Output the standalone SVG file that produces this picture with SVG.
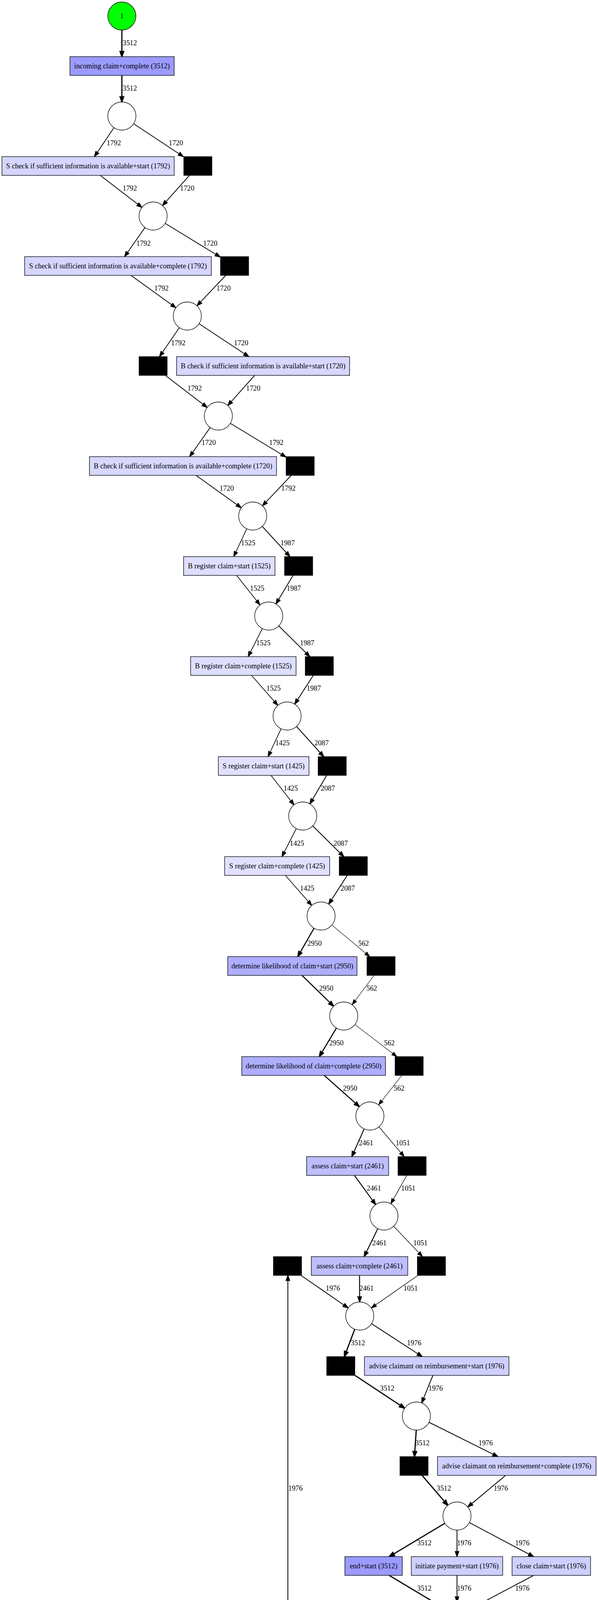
<svg xmlns="http://www.w3.org/2000/svg" width="1531" height="4691" viewBox="0 0 1531 4691">
<style>
text{font-family:"Liberation Serif","Times New Roman",serif;font-size:18.3px;fill:#000}
.n text{text-anchor:middle}
.pl{fill:#fff;stroke:#000;stroke-width:1.33}
.tr{stroke:#000;stroke-width:1.33}
.hid{fill:#000;stroke:#000;stroke-width:1.33}
.c3512{fill:#9B9BFF}.c2950{fill:#AEAEFF}.c2461{fill:#BEBEFF}.c1976{fill:#CFCFFF}
.c1792{fill:#D5D5FF}.c1720{fill:#D7D7FF}.c1525{fill:#DEDEFF}.c1425{fill:#E1E1FF}
.e{fill:none;stroke:#000}
marker path{fill:#000;stroke:#000}
.w30{stroke-width:3;marker-end:url(#m30)}
.w26{stroke-width:2.64;marker-end:url(#m26)}
.w23{stroke-width:2.33;marker-end:url(#m23)}
.w21{stroke-width:2.1;marker-end:url(#m21)}
.w20{stroke-width:2.03;marker-end:url(#m20)}
.w19{stroke-width:1.9;marker-end:url(#m19)}
.w17{stroke-width:1.72;marker-end:url(#m17)}
.w14{stroke-width:1.45;marker-end:url(#m14)}
.w11{stroke-width:1.15;marker-end:url(#m11)}
</style>
<defs>
<marker id="m30" markerUnits="userSpaceOnUse" markerWidth="16" markerHeight="12" refX="13.3" refY="0" orient="auto" overflow="visible"><path d="M0,-4.67L13.3,0L0,4.67Z" stroke-width="3"/></marker>
<marker id="m26" markerUnits="userSpaceOnUse" markerWidth="16" markerHeight="12" refX="13.3" refY="0" orient="auto" overflow="visible"><path d="M0,-4.67L13.3,0L0,4.67Z" stroke-width="2.64"/></marker>
<marker id="m23" markerUnits="userSpaceOnUse" markerWidth="16" markerHeight="12" refX="13.3" refY="0" orient="auto" overflow="visible"><path d="M0,-4.67L13.3,0L0,4.67Z" stroke-width="2.33"/></marker>
<marker id="m21" markerUnits="userSpaceOnUse" markerWidth="16" markerHeight="12" refX="13.3" refY="0" orient="auto" overflow="visible"><path d="M0,-4.67L13.3,0L0,4.67Z" stroke-width="2.1"/></marker>
<marker id="m20" markerUnits="userSpaceOnUse" markerWidth="16" markerHeight="12" refX="13.3" refY="0" orient="auto" overflow="visible"><path d="M0,-4.67L13.3,0L0,4.67Z" stroke-width="2.03"/></marker>
<marker id="m19" markerUnits="userSpaceOnUse" markerWidth="16" markerHeight="12" refX="13.3" refY="0" orient="auto" overflow="visible"><path d="M0,-4.67L13.3,0L0,4.67Z" stroke-width="1.9"/></marker>
<marker id="m17" markerUnits="userSpaceOnUse" markerWidth="16" markerHeight="12" refX="13.3" refY="0" orient="auto" overflow="visible"><path d="M0,-4.67L13.3,0L0,4.67Z" stroke-width="1.72"/></marker>
<marker id="m14" markerUnits="userSpaceOnUse" markerWidth="16" markerHeight="12" refX="13.3" refY="0" orient="auto" overflow="visible"><path d="M0,-4.67L13.3,0L0,4.67Z" stroke-width="1.45"/></marker>
<marker id="m11" markerUnits="userSpaceOnUse" markerWidth="16" markerHeight="12" refX="13.3" refY="0" orient="auto" overflow="visible"><path d="M0,-4.67L13.3,0L0,4.67Z" stroke-width="1.15"/></marker>
</defs>
<rect x="0" y="0" width="1531" height="4691" fill="#fff"/>

<g id="connectors">
<path class="e w30" d="M312,77 L312,145"/>
<path class="e w30" d="M312,193 L312,261"/>
<path class="e w19" d="M291.8,326.8 L241.7,401"/>
<path class="e w19" d="M342.1,316.8 L469.5,401"/>
<path class="e w19" d="M256.7,449 L363.5,531.1"/>
<path class="e w19" d="M485,449 L416,526.2"/>
<path class="e w19" d="M371.3,582.4 L318.9,657"/>
<path class="e w19" d="M422.7,571.8 L564,658"/>
<path class="e w19" d="M335.3,705 L450.3,787.9"/>
<path class="e w19" d="M577.8,705 L504.2,782.8"/>
<path class="e w19" d="M459.2,838.7 L408.4,913"/>
<path class="e w19" d="M509.6,828.8 L637.1,913"/>
<path class="e w19" d="M423.3,961 L530.4,1043.1"/>
<path class="e w19" d="M652,961 L583,1038.2"/>
<path class="e w19" d="M538.2,1094.4 L485.5,1169"/>
<path class="e w19" d="M589.7,1083.8 L732,1170"/>
<path class="e w19" d="M502,1217 L617.8,1300"/>
<path class="e w19" d="M745.7,1217 L671.8,1294.9"/>
<path class="e w17" d="M631.7,1353.6 L598.3,1425"/>
<path class="e w20" d="M671.3,1347.5 L742.5,1425"/>
<path class="e w17" d="M605.9,1473 L665.7,1548.7"/>
<path class="e w20" d="M750.2,1473 L706.5,1546.1"/>
<path class="e w17" d="M671.7,1609.1 L635.2,1681"/>
<path class="e w20" d="M713.6,1602.3 L793.2,1681"/>
<path class="e w17" d="M644,1729 L711.3,1805.9"/>
<path class="e w20" d="M802,1729 L754.5,1802.7"/>
<path class="e w17" d="M719.7,1865.6 L686.3,1937"/>
<path class="e w21" d="M759.1,1859.7 L828.8,1937"/>
<path class="e w17" d="M693.8,1985 L752.8,2060.6"/>
<path class="e w21" d="M836.3,1985 L793.3,2058"/>
<path class="e w17" d="M758.6,2121 L721.8,2193"/>
<path class="e w21" d="M800.6,2114.3 L880.2,2193"/>
<path class="e w17" d="M730.6,2241 L798.2,2318"/>
<path class="e w21" d="M889,2241 L841.5,2314.7"/>
<path class="e w26" d="M804.1,2376.2 L762.3,2449"/>
<path class="e w11" d="M849.6,2368.1 L946.7,2449"/>
<path class="e w26" d="M773.2,2497 L854.2,2575.9"/>
<path class="e w11" d="M957.6,2497 L901.5,2572.1"/>
<path class="e w26" d="M861.4,2631.8 L817.4,2705"/>
<path class="e w11" d="M908.6,2622.9 L1016.1,2705"/>
<path class="e w26" d="M830,2753 L920.1,2833.1"/>
<path class="e w11" d="M1028.7,2753 L969.2,2828.7"/>
<path class="e w23" d="M932.4,2889.9 L900.7,2961"/>
<path class="e w14" d="M970.2,2884.5 L1034.8,2961"/>
<path class="e w23" d="M907.4,3009 L961.8,3083.9"/>
<path class="e w14" d="M1041.5,3009 L1000.6,3081.6"/>
<path class="e w23" d="M967.2,3145.4 L932.2,3217"/>
<path class="e w14" d="M1007.8,3139.1 L1081.7,3217"/>
<path class="e w20" d="M770.7,3265 L891.4,3348.5"/>
<path class="e w23" d="M920.5,3265 L920.8,3333"/>
<path class="e w14" d="M1070.1,3265 L950.5,3348.4"/>
<path class="e w30" d="M908.2,3402.7 L881.6,3473"/>
<path class="e w20" d="M951.2,3388.6 L1081.1,3473"/>
<path class="e w30" d="M908.8,3521 L1036,3605.1"/>
<path class="e w20" d="M1108.3,3521 L1079.5,3591.7"/>
<path class="e w30" d="M1065.7,3661 L1061.1,3729"/>
<path class="e w20" d="M1098.2,3641 L1274.8,3729"/>
<path class="e w30" d="M1080.6,3777 L1146.5,3853.7"/>
<path class="e w20" d="M1294.3,3777 L1197.6,3857.9"/>
<path class="e w30" d="M1139.1,3899.5 L996.5,3985"/>
<path class="e w20" d="M1170,3917 L1170,3985"/>
<path class="e w20" d="M1201.8,3897.9 L1366.2,3985"/>
<path class="e w30" d="M996.5,4033 L1139.1,4118.5"/>
<path class="e w20" d="M1170,4033 L1170,4101"/>
<path class="e w20" d="M1366.2,4033 L1201.8,4120.1"/>
<path class="e w20" d="M1137.3,4152.1 L944.5,4241"/>
<path class="e w20" d="M1170,4173 L1170,4241"/>
<path class="e w30" d="M1202,4153.4 L1372.7,4241"/>
<path class="e w20" d="M918.3,4289 L1003.7,4368.5"/>
<path class="e w20" d="M1143.8,4289 L1056.6,4368.7"/>
<path class="e w30" d="M1346.5,4289 L1064.2,4381.8"/>
<path class="e w20" d="M994,4393 C880,4391 737,4370 737,4270 L737,3265"/>
<path class="e w30" d="M1030,4429 L1030,4497"/>
<path class="e w30" d="M1030,4545 L1030,4613"/>

<g id="edge-labels">
<text x="314" y="116">3512</text>
<text x="314" y="232">3512</text>
<text x="273" y="372">1792</text>
<text x="432" y="372">1720</text>
<text x="314" y="488">1792</text>
<text x="461" y="488">1720</text>
<text x="349" y="629">1792</text>
<text x="520" y="629">1720</text>
<text x="395" y="744">1792</text>
<text x="554" y="744">1720</text>
<text x="438" y="884">1792</text>
<text x="599" y="884">1720</text>
<text x="480" y="1000">1792</text>
<text x="630" y="1000">1720</text>
<text x="516" y="1139">1720</text>
<text x="689" y="1139">1792</text>
<text x="562" y="1256">1720</text>
<text x="720" y="1256">1792</text>
<text x="617" y="1396">1525</text>
<text x="718" y="1396">1987</text>
<text x="640" y="1512">1525</text>
<text x="734" y="1512">1987</text>
<text x="656" y="1652">1525</text>
<text x="768" y="1652">1987</text>
<text x="682" y="1768">1525</text>
<text x="785" y="1768">1987</text>
<text x="705" y="1908">1425</text>
<text x="805" y="1908">2087</text>
<text x="726" y="2024">1425</text>
<text x="821" y="2024">2087</text>
<text x="742" y="2165">1425</text>
<text x="854" y="2165">2087</text>
<text x="768" y="2280">1425</text>
<text x="872" y="2280">2087</text>
<text x="787" y="2421">2950</text>
<text x="917" y="2421">562</text>
<text x="817" y="2536">2950</text>
<text x="938" y="2536">562</text>
<text x="843" y="2676">2950</text>
<text x="983" y="2676">562</text>
<text x="878" y="2792">2950</text>
<text x="1008" y="2792">562</text>
<text x="919" y="2932">2461</text>
<text x="1013" y="2932">1051</text>
<text x="939" y="3048">2461</text>
<text x="1027" y="3048">1051</text>
<text x="953" y="3188">2461</text>
<text x="1058" y="3188">1051</text>
<text x="834" y="3304">1976</text>
<text x="920" y="3304">2461</text>
<text x="1033" y="3304">1051</text>
<text x="898" y="3444">3512</text>
<text x="1042" y="3444">1976</text>
<text x="973" y="3560">3512</text>
<text x="1097" y="3560">1976</text>
<text x="1063" y="3700">3512</text>
<text x="1225" y="3700">1976</text>
<text x="1118" y="3816">3512</text>
<text x="1264" y="3816">1976</text>
<text x="738" y="3816">1976</text>
<text x="1068" y="3956">3512</text>
<text x="1170" y="3956">1976</text>
<text x="1319" y="3956">1976</text>
<text x="1068" y="4072">3512</text>
<text x="1170" y="4072">1976</text>
<text x="1319" y="4072">1976</text>
<text x="1039" y="4212">1976</text>
<text x="1170" y="4212">1976</text>
<text x="1323" y="4212">3512</text>
<text x="965" y="4328">1976</text>
<text x="1114" y="4328">1976</text>
<text x="1270" y="4328">3512</text>
<text x="1030" y="4468">3512</text>
<text x="1030" y="4584">3512</text>
</g>
</g>

<g id="p_start" class="n"><circle cx="312" cy="41" r="36" fill="#00FF00" stroke="#000" stroke-width="1.33"/><text x="312" y="47">1</text></g>
<g id="t_incoming_complete" class="n"><rect class="tr c3512" x="179" y="145" width="267" height="48"/><text x="312.5" y="175">incoming claim+complete (3512)</text></g>
<g id="p1"><circle class="pl" cx="312" cy="297" r="36"/></g>
<g id="t_s_check_start" class="n"><rect class="tr c1792" x="5" y="401" width="441" height="48"/><text x="225.5" y="431">S check if sufficient information is available+start (1792)</text></g>
<g id="h1"><rect class="hid" x="470.5" y="401" width="72" height="48"/></g>
<g id="p2"><circle class="pl" cx="392" cy="553" r="36"/></g>
<g id="t_s_check_complete" class="n"><rect class="tr c1792" x="63" y="657" width="478" height="48"/><text x="302" y="687">S check if sufficient information is available+complete (1792)</text></g>
<g id="h2"><rect class="hid" x="564.5" y="657" width="72" height="48"/></g>
<g id="p3"><circle class="pl" cx="479.5" cy="809" r="36"/></g>
<g id="h3"><rect class="hid" x="356" y="913" width="72" height="48"/></g>
<g id="t_b_check_start" class="n"><rect class="tr c1720" x="452" y="913" width="443" height="48"/><text x="673.5" y="943">B check if sufficient information is available+start (1720)</text></g>
<g id="p4"><circle class="pl" cx="559" cy="1065" r="36"/></g>
<g id="t_b_check_complete" class="n"><rect class="tr c1720" x="229" y="1169" width="479" height="48"/><text x="468.5" y="1199">B check if sufficient information is available+complete (1720)</text></g>
<g id="h4"><rect class="hid" x="732.5" y="1169" width="72" height="48"/></g>
<g id="p5"><circle class="pl" cx="647" cy="1321" r="36"/></g>
<g id="t_b_register_start" class="n"><rect class="tr c1525" x="470" y="1425" width="234" height="48"/><text x="587" y="1455">B register claim+start (1525)</text></g>
<g id="h5"><rect class="hid" x="728.5" y="1425" width="72" height="48"/></g>
<g id="p6"><circle class="pl" cx="688" cy="1577" r="36"/></g>
<g id="t_b_register_complete" class="n"><rect class="tr c1525" x="488" y="1681" width="270" height="48"/><text x="623" y="1711">B register claim+complete (1525)</text></g>
<g id="h6"><rect class="hid" x="781.5" y="1681" width="72" height="48"/></g>
<g id="p7"><circle class="pl" cx="735" cy="1833" r="36"/></g>
<g id="t_s_register_start" class="n"><rect class="tr c1425" x="559" y="1937" width="232" height="48"/><text x="675" y="1967">S register claim+start (1425)</text></g>
<g id="h7"><rect class="hid" x="814.5" y="1937" width="72" height="48"/></g>
<g id="p8"><circle class="pl" cx="775" cy="2089" r="36"/></g>
<g id="t_s_register_complete" class="n"><rect class="tr c1425" x="575" y="2193" width="269" height="48"/><text x="709.5" y="2223">S register claim+complete (1425)</text></g>
<g id="h8"><rect class="hid" x="868.5" y="2193" width="72" height="48"/></g>
<g id="p9"><circle class="pl" cx="822" cy="2345" r="36"/></g>
<g id="t_determine_start" class="n"><rect class="tr c2950" x="583" y="2449" width="331" height="48"/><text x="748.5" y="2479">determine likelihood of claim+start (2950)</text></g>
<g id="h9"><rect class="hid" x="939.5" y="2449" width="72" height="48"/></g>
<g id="p10"><circle class="pl" cx="880" cy="2601" r="36"/></g>
<g id="t_determine_complete" class="n"><rect class="tr c2950" x="619" y="2705" width="368" height="48"/><text x="803" y="2735">determine likelihood of claim+complete (2950)</text></g>
<g id="h10"><rect class="hid" x="1011.5" y="2705" width="72" height="48"/></g>
<g id="p11"><circle class="pl" cx="947" cy="2857" r="36"/></g>
<g id="t_assess_start" class="n"><rect class="tr c2461" x="785" y="2961" width="210" height="48"/><text x="890" y="2991">assess claim+start (2461)</text></g>
<g id="h11"><rect class="hid" x="1019" y="2961" width="72" height="48"/></g>
<g id="p12"><circle class="pl" cx="983" cy="3113" r="36"/></g>
<g id="h12"><rect class="hid" x="700" y="3217" width="72" height="48"/></g>
<g id="t_assess_complete" class="n"><rect class="tr c2461" x="797" y="3217" width="247" height="48"/><text x="920.5" y="3247">assess claim+complete (2461)</text></g>
<g id="h13"><rect class="hid" x="1068.5" y="3217" width="72" height="48"/></g>
<g id="p13"><circle class="pl" cx="921" cy="3369" r="36"/></g>
<g id="h14"><rect class="hid" x="836.5" y="3473" width="72" height="48"/></g>
<g id="t_advise_start" class="n"><rect class="tr c1976" x="933" y="3473" width="370" height="48"/><text x="1118" y="3503">advise claimant on reimbursement+start (1976)</text></g>
<g id="p14"><circle class="pl" cx="1066" cy="3625" r="36"/></g>
<g id="h15"><rect class="hid" x="1024" y="3729" width="72" height="48"/></g>
<g id="t_advise_complete" class="n"><rect class="tr c1976" x="1120" y="3729" width="406" height="48"/><text x="1323" y="3759">advise claimant on reimbursement+complete (1976)</text></g>
<g id="p15"><circle class="pl" cx="1170" cy="3881" r="36"/></g>
<g id="t_end_start" class="n"><rect class="tr c3512" x="883" y="3985" width="147" height="48"/><text x="956.5" y="4015">end+start (3512)</text></g>
<g id="t_initiate_start" class="n"><rect class="tr c1976" x="1053" y="3985" width="234" height="48"/><text x="1170" y="4015">initiate payment+start (1976)</text></g>
<g id="t_close_start" class="n"><rect class="tr c1976" x="1311" y="3985" width="201" height="48"/><text x="1411.5" y="4015">close claim+start (1976)</text></g>
<g id="p16"><circle class="pl" cx="1170" cy="4137" r="36"/></g>
<g id="t_close_complete" class="n"><rect class="tr c1976" x="774" y="4241" width="237" height="48"/><text x="892.5" y="4271">close claim+complete (1976)</text></g>
<g id="t_initiate_complete" class="n"><rect class="tr c1976" x="1035" y="4241" width="270" height="48"/><text x="1170" y="4271">initiate payment+complete (1976)</text></g>
<g id="t_end_complete" class="n"><rect class="tr c3512" x="1329" y="4241" width="181" height="48"/><text x="1419.5" y="4271">end+complete (3512)</text></g>
<g id="p17"><circle class="pl" cx="1030" cy="4393" r="36"/></g>
<g id="h16"><rect class="hid" x="994" y="4497" width="72" height="48"/></g>
<g id="p_end"><circle cx="1030" cy="4649" r="36" fill="#FFA500" stroke="#000" stroke-width="1.33"/></g>
</svg>
